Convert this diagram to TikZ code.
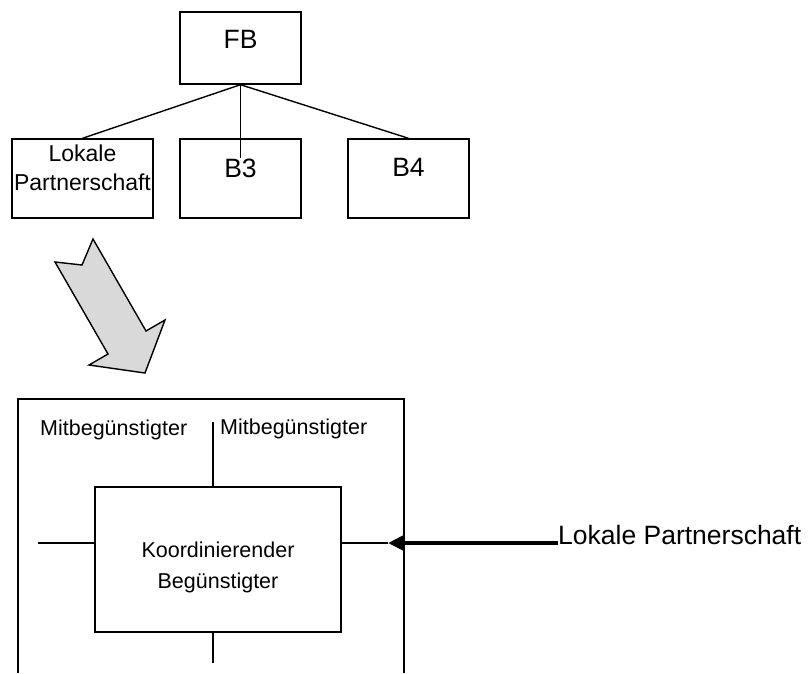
\documentclass[tikz,border=0pt]{standalone}
\usepackage{fontspec}
\setmainfont{Liberation Sans}
\usetikzlibrary{arrows.meta, positioning}

\begin{document}
\begin{tikzpicture}[x=1pt, y=-1pt,
    box/.style={draw, line width=1.4pt, inner sep=0pt, align=center},
    big/.style={font=\fontsize{26.5}{30}\selectfont},
    small/.style={font=\fontsize{21.5}{31}\selectfont},
    link/.style={line width=1.4pt},
    push/.style={line width=4.5pt, -{Triangle[length=15pt, width=14pt]}},
  ]
  \useasboundingbox (0,0) rectangle (808,673);

  % Top level boxes
  \node[box, big, minimum width=121pt, minimum height=72pt, text height=19pt, text depth=19pt] (fb) at (240.5,48) {FB};
  \node[box, font=\fontsize{23}{29}\selectfont, minimum width=141pt, minimum height=79pt, text height=46pt, text depth=23pt] (lp) at (82.5,178.5) {Lokale\\Partnerschaft};
  \node[box, big, minimum width=121pt, minimum height=79pt, text height=19pt, text depth=22pt] (b3) at (240.5,178.5) {B3};
  \node[box, big, minimum width=121pt, minimum height=79pt, text height=19pt, text depth=24pt] (b4) at (408.5,178.5) {B4};

  % Links from FB
  \coordinate (b3in) at (240.5,158);
  \draw[link] (fb.south) -- (lp.north);
  \draw[link] (fb.south) -- (b3in);
  \draw[link] (fb.south) -- (b4.north);

  % Grey block arrow
  \draw[line width=1.4pt, fill=black!15] (93,239) -- (146,331) -- (165,320) -- (145,373)
    -- (89,365) -- (108,354) -- (55,262) -- (82,265) -- cycle;

  % Frame
  \draw[link] (18,673) -- (18,399) -- (404,399) -- (404,673);

  % Coordinating beneficiary
  \node[box, small, minimum width=246pt, minimum height=145pt, text height=61.5pt, text depth=4.5pt] (kb) at (218,559.5) {Koordinierender\\Begünstigter};
  \node[small, anchor=base west, inner sep=0pt] (mb1) at (40,435) {Mitbegünstigter};
  \node[small, anchor=base west, inner sep=0pt] (mb2) at (220,434) {Mitbegünstigter};

  \coordinate (top) at (213,421.5);
  \coordinate (bot) at (213,662.5);
  \coordinate (lft) at (38,543);
  \coordinate (tip) at (388,543);
  \draw[link] (top) -- (top |- kb.north);
  \draw[link] (bot) -- (bot |- kb.south);
  \draw[link] (lft) -- (lft -| kb.west);
  \draw[link] (kb.east |- tip) -- (tip);

  % Incoming partnership
  \node[big, anchor=base west, inner sep=0pt] (lp2) at (558,544) {Lokale Partnerschaft};
  \draw[push] (lp2.west |- tip) -- (tip);
\end{tikzpicture}
\end{document}
